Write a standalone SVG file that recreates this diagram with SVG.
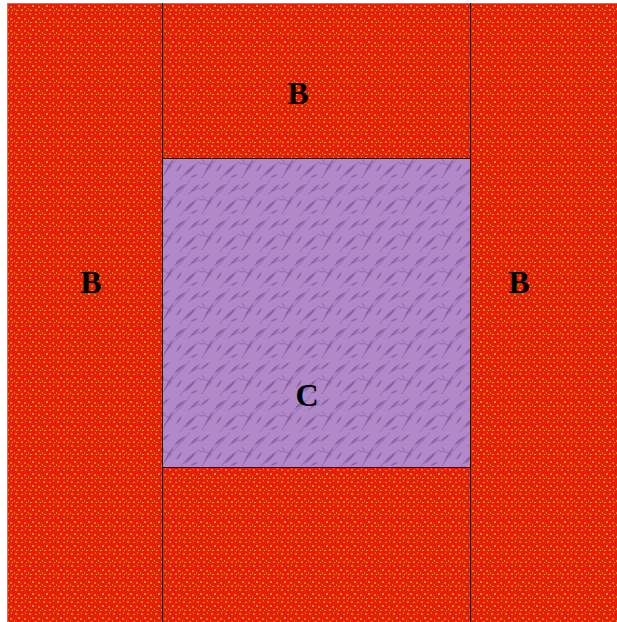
<svg xmlns="http://www.w3.org/2000/svg" width="617" height="622" viewBox="0 0 617 622">
<style>
.lbl{font-family:"Liberation Serif","Times New Roman",serif;font-weight:bold;font-size:32px;fill:#000;text-anchor:middle}
.seam{stroke:#3a0a00;stroke-width:1;fill:none}
</style>
<defs>
<pattern id="red" width="14" height="12" patternUnits="userSpaceOnUse">
<rect width="14" height="12" fill="#e41e08"/>
<rect x="1" y="1" width="2" height="2" fill="#f8781a"/>
<rect x="7" y="2" width="2" height="1" fill="#f09020"/>
<rect x="11" y="0" width="1" height="2" fill="#f56a12"/>
<rect x="4" y="5" width="2" height="2" fill="#f88a1a"/>
<rect x="10" y="6" width="2" height="2" fill="#f07014"/>
<rect x="0" y="8" width="1" height="2" fill="#f2701a"/>
<rect x="2" y="10" width="2" height="1" fill="#f89020"/>
<rect x="7" y="9" width="2" height="2" fill="#ee7a12"/>
<rect x="12" y="10" width="1" height="1" fill="#f8a030"/>
</pattern>
<pattern id="purple" width="40" height="36" patternUnits="userSpaceOnUse">
<rect width="40" height="36" fill="#b189c9"/>
<g fill="#855aa2" opacity="0.8">
<path d="M4 30 Q8 20 14 14 Q10 24 4 30Z"/>
<path d="M14 14 Q22 10 26 4 Q18 6 14 14Z"/>
<path d="M24 32 Q28 24 36 20 Q32 28 24 32Z"/>
<path d="M30 12 Q34 6 40 4 Q36 10 30 12Z"/>
<path d="M0 10 Q4 4 10 2 Q6 8 0 10Z"/>
<path d="M16 28 Q18 22 22 20 Q20 26 16 28Z"/>
<path d="M30 34 Q34 30 38 30 Q34 34 30 34Z"/>
<path d="M6 20 Q2 16 0 14 Q4 16 6 20Z"/>
</g>
<g stroke="#5e3680" stroke-width="0.8" fill="none" opacity="0.8" stroke-dasharray="1.5 1">
<path d="M2 34 Q10 20 20 12 Q26 6 30 0"/>
<path d="M20 36 Q28 24 40 18"/>
<path d="M28 14 Q34 10 40 8"/>
<path d="M0 20 Q6 18 12 24"/>
</g>
</pattern>
</defs>
<rect x="0" y="0" width="617" height="622" fill="#ffffff"/>
<g id="border-B">
<rect x="7" y="3" width="610" height="619" fill="url(#red)"/>
<line x1="7" y1="3.5" x2="617" y2="3.5" stroke="#888" stroke-width="1"/>
<line x1="7.5" y1="3" x2="7.5" y2="622" stroke="#888" stroke-width="1"/>
</g>
<g id="center-C">
<rect x="162" y="158" width="308" height="309" fill="url(#purple)"/>
</g>
<g id="seams">
<line class="seam" x1="162.5" y1="3" x2="162.5" y2="622"/>
<line class="seam" x1="470.5" y1="3" x2="470.5" y2="622"/>
<line class="seam" x1="162" y1="158.5" x2="470" y2="158.5"/>
<line class="seam" x1="162" y1="467.5" x2="470" y2="467.5"/>
</g>
<g id="labels">
<text class="lbl" x="298" y="104">B</text>
<text class="lbl" x="91" y="293">B</text>
<text class="lbl" x="519" y="293">B</text>
<text class="lbl" x="307" y="406">C</text>
</g>
</svg>
